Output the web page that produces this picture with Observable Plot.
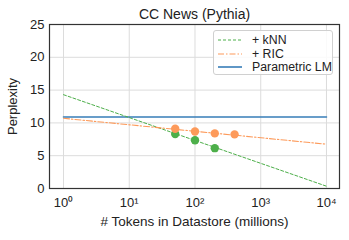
<!DOCTYPE html>
<html><head><meta charset="utf-8">
<script src="https://cdn.jsdelivr.net/npm/d3@7"></script>
<script src="https://cdn.jsdelivr.net/npm/@observablehq/plot@0.6"></script>
<style>
body{margin:0;background:#fff;font-family:"Liberation Sans",Arial,sans-serif;}
#wrap{position:relative;width:349px;height:240px;}
#legend{position:absolute;left:213px;top:30px;width:120px;height:45px;box-sizing:border-box;border:1px solid #d0d0d0;border-radius:3px;background:rgba(255,255,255,0.85);font-size:12.3px;color:#222;white-space:nowrap;}
.row{position:absolute;left:0;height:14px;display:flex;align-items:center;white-space:nowrap;}
.row svg{margin-left:4px;margin-right:10px;flex:none;}
</style></head>
<body><div id="wrap"><div id="legend"></div></div>
<script>
const title = "CC News (Pythia)";
const xLabel = "# Tokens in Datastore (millions)";
const yLabel = "Perplexity";
const seriesNames = ["+ kNN", "+ RIC", "Parametric LM"];
const colors = ["#4daf4a", "#fd9a5a", "#377eb8"];
const knnTokens = [50, 100, 200];
const knnPpl = [8.3, 7.35, 6.15];
const ricTokens = [50, 100, 200, 400];
const ricPpl = [9.1, 8.7, 8.4, 8.25];
const fitX = [1, 10000];
const knnFit = [14.3, 0.35];
const ricFit = [10.7, 6.75];
const paramLM = 10.9;
const xTicks = [1, 10, 100, 1000, 10000];
const xTickLabels = ["10⁰", "10¹", "10²", "10³", "10⁴"];
const yTicks = [0, 5, 10, 15, 20, 25];

const knnPts = knnTokens.map((t, i) => ({x: t, y: knnPpl[i]}));
const ricPts = ricTokens.map((t, i) => ({x: t, y: ricPpl[i]}));
const knnLine = fitX.map((t, i) => ({x: t, y: knnFit[i]}));
const ricLine = fitX.map((t, i) => ({x: t, y: ricFit[i]}));
const lmLine = fitX.map(t => ({x: t, y: paramLM}));

const chart = Plot.plot({
  width: 349, height: 240,
  marginLeft: 49, marginRight: 10, marginTop: 24, marginBottom: 52,
  style: {fontFamily: "Liberation Sans, Arial, sans-serif", fontSize: "13px", color: "#222", background: "#fff"},
  x: {type: "log", domain: [Math.pow(10, -0.213), Math.pow(10, 4.198)]},
  y: {domain: [0, 25]},
  marks: [
    Plot.gridX(xTicks, {stroke: "#dcdcdc", strokeOpacity: 1, strokeWidth: 1}),
    Plot.gridY(yTicks, {stroke: "#dcdcdc", strokeOpacity: 1, strokeWidth: 1}),
    Plot.axisX(xTicks, {tickSize: 0, tickPadding: 9, tickFormat: (d) => xTickLabels[xTicks.indexOf(d)], fontSize: 13, label: null}),
    Plot.axisX({tickSize: 0, ticks: [], fontSize: 13.5,
      label: xLabel, labelAnchor: "center", labelArrow: "none", labelOffset: 37}),
    Plot.axisY(yTicks, {tickSize: 0, tickPadding: 5, fontSize: 13, label: null}),
    Plot.axisY({tickSize: 0, ticks: [], fontSize: 13,
      label: yLabel, labelAnchor: "center", labelArrow: "none", labelOffset: 42}),
    Plot.line(lmLine, {x: "x", y: "y", stroke: colors[2], strokeWidth: 1.6}),
    Plot.line(knnLine, {x: "x", y: "y", stroke: colors[0], strokeWidth: 1, strokeDasharray: "3,2"}),
    Plot.line(ricLine, {x: "x", y: "y", stroke: colors[1], strokeWidth: 1.1, strokeDasharray: "6,2,1.5,2"}),
    Plot.dot(knnPts, {x: "x", y: "y", fill: colors[0], r: 4.2}),
    Plot.dot(ricPts, {x: "x", y: "y", fill: colors[1], r: 4.2}),
    Plot.frame({stroke: "#333", strokeWidth: 1.2}),
    Plot.text([title], {frameAnchor: "top", dy: -15, fontSize: 14, fill: "#222"})
  ]
});
const wrap = document.getElementById("wrap");
wrap.insertBefore(chart, wrap.firstChild);

const dashes = ["3,2", "6,2,1.5,2", null];
const widths = [1, 1.1, 1.6];
const legend = document.getElementById("legend");
seriesNames.forEach((name, i) => {
  const row = document.createElement("div");
  row.className = "row";
  row.style.top = (2 + i * 13.5) + "px";
  row.innerHTML = `<svg width="24" height="6"><line x1="0" y1="3" x2="24" y2="3" stroke="${colors[i]}" stroke-width="${widths[i]}" ${dashes[i] ? `stroke-dasharray="${dashes[i]}"` : ""}/></svg><span>${name}</span>`;
  legend.appendChild(row);
});
</script></body></html>
